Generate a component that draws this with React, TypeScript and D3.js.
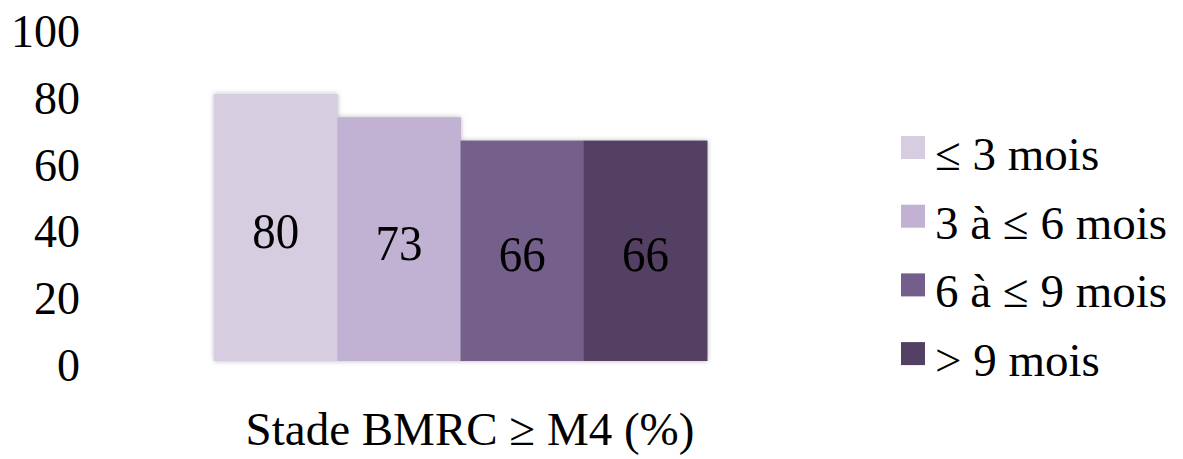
import { scaleBand, scaleLinear } from 'd3';
import React from 'react';

const groups = ['Stade BMRC ≥ M4 (%)'];
const series = ['≤ 3 mois', '3 à ≤ 6 mois', '6 à ≤ 9 mois', '> 9 mois'];
const values = [80, 73, 66, 66];
const colors = ['#d6cde1', '#c1b2d3', '#745e8b', '#524163'];
const yTicks = [0, 20, 40, 60, 80, 100];

const W = 1183;
const H = 459;
const font = '"Liberation Serif", "Times New Roman", serif';

const App = () => {
  const yScale = scaleLinear().domain([0, 100]).range([361, 27]);
  const x0 = scaleBand().domain(groups).range([214, 707]).padding(0);
  const x1 = scaleBand().domain(series).range([0, x0.bandwidth()]).padding(0);

  return (
    <div style={{ position: 'absolute', left: 0, top: 0 }}>
      <svg width={W} height={H} style={{ display: 'block', background: '#fff' }}>
        <defs>
          <filter id='barShadow' x='-10%' y='-10%' width='120%' height='120%'>
            <feDropShadow dx='0' dy='0' stdDeviation='2.5' floodColor='#000' floodOpacity='0.28' />
          </filter>
        </defs>

        {/* y tick labels, no axis line */}
        <g fontFamily={font} fontSize={46} fill='#000'>
          {yTicks.map((t) => (
            <text key={t} x={80} y={yScale(t) + 20} textAnchor='end'>
              {t}
            </text>
          ))}
        </g>

        {groups.map((g) => (
          <g key={g} transform={`translate(${x0(g)},0)`}>
            <g filter='url(#barShadow)'>
              {series.map((s, i) => (
                <rect
                  key={s}
                  x={x1(s)}
                  y={yScale(values[i])}
                  width={x1.bandwidth() + 0.5}
                  height={yScale(0) - yScale(values[i])}
                  fill={colors[i]}
                />
              ))}
            </g>
            <g fontFamily={font} fontSize={47} fill='#000' textAnchor='middle'>
              {series.map((s, i) => {
                const cx = (x1(s) ?? 0) + x1.bandwidth() / 2;
                const by = (yScale(values[i]) + yScale(0)) / 2 + 20.5;
                return (
                  <text key={s} transform={`translate(${cx},${by}) scale(1,1.1)`}>
                    {values[i]}
                  </text>
                );
              })}
            </g>
          </g>
        ))}

        {/* category label */}
        <text x={470} y={445} fontFamily={font} fontSize={47} textAnchor='middle' fill='#000'>
          {groups[0]}
        </text>

        {/* legend */}
        <g fontFamily={font} fontSize={47} fill='#000'>
          {series.map((s, i) => (
            <g key={s} transform={`translate(901,${136 + i * 68.7})`}>
              <rect x={0} y={0} width={24} height={23} fill={colors[i]} />
              <text x={34} y={34}>
                {s}
              </text>
            </g>
          ))}
        </g>
      </svg>
    </div>
  );
};

export default App;
